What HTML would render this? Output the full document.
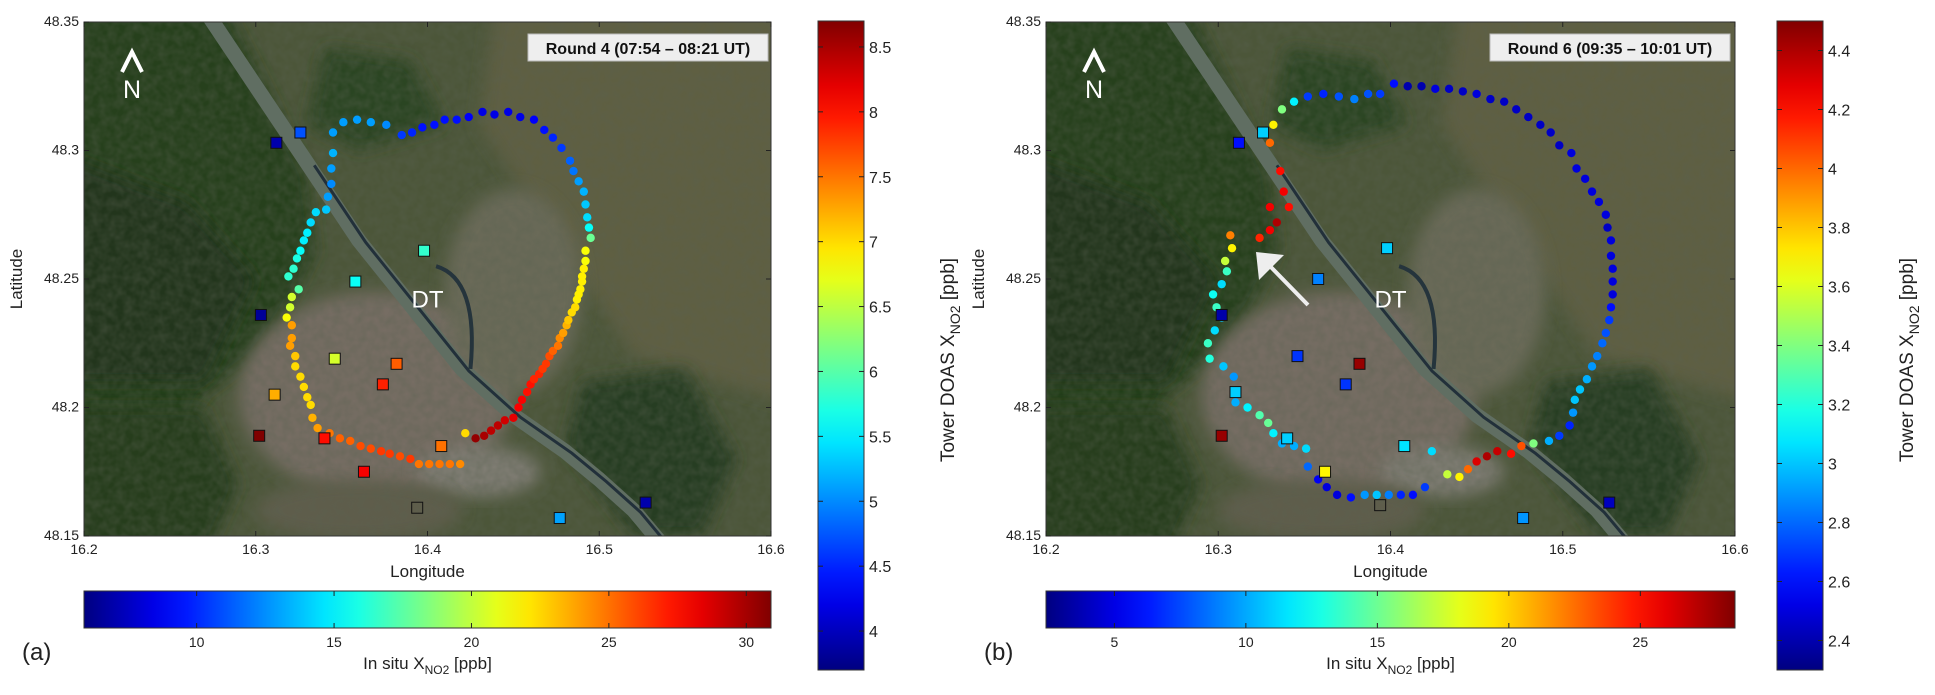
<!DOCTYPE html>
<html><head><meta charset="utf-8">
<style>
html,body{margin:0;padding:0;background:#fff;}
svg{display:block;font-family:"Liberation Sans",Arial,sans-serif;}
</style></head>
<body>
<svg id="fig" width="1935" height="695" viewBox="0 0 1935 695" xmlns="http://www.w3.org/2000/svg">
<defs>
<filter id="blur8" x="-20%" y="-20%" width="140%" height="140%"><feGaussianBlur stdDeviation="8"/></filter>
<filter id="noise" x="0" y="0" width="100%" height="100%">
<feTurbulence type="fractalNoise" baseFrequency="0.12" numOctaves="2" seed="3"/>
<feColorMatrix type="matrix" values="0 0 0 0 0.1  0 0 0 0 0.12  0 0 0 0 0.08  0 0 0 1.2 -0.3"/>
</filter>
</defs>
</svg>
<script>
// ---------- Panel (a) data: Round 4 ----------
const lonA=[16.336,16.343,16.349,16.355,16.361,16.367,16.373,16.378,16.384,16.390,16.395,16.401,16.407,16.413,16.419,
16.422,16.428,16.433,16.437,16.441,16.445,16.450,16.453,16.455,16.458,16.460,16.462,16.465,16.467,16.469,16.471,16.473,16.476,16.477,16.479,16.481,16.482,16.484,16.486,16.487,16.488,16.489,16.490,16.490,16.491,16.492,16.492,16.495,16.494,16.493,16.492,16.491,16.488,16.485,16.483,16.478,16.473,16.468,16.462,16.454,16.447,16.439,16.432,16.424,16.417,16.410,16.404,16.397,16.391,16.385,16.376,16.367,16.359,16.351,16.345,16.345,16.344,16.344,16.342,16.341,16.335,16.332,16.330,16.328,16.326,16.324,16.322,16.319,16.325,16.321,16.320,16.318,16.321,16.321,16.320,16.323,16.323,16.326,16.328,16.330,16.332,16.333];
const latA=[48.192,48.190,48.188,48.187,48.185,48.184,48.183,48.182,48.181,48.180,48.178,48.178,48.178,48.178,48.178,
48.190,48.188,48.189,48.191,48.193,48.195,48.196,48.200,48.203,48.206,48.209,48.211,48.213,48.215,48.217,48.220,48.222,48.224,48.227,48.229,48.232,48.234,48.237,48.239,48.242,48.244,48.246,48.249,48.251,48.254,48.257,48.261,48.266,48.270,48.274,48.279,48.284,48.288,48.292,48.296,48.301,48.305,48.308,48.312,48.313,48.315,48.314,48.315,48.313,48.312,48.312,48.310,48.309,48.307,48.306,48.310,48.311,48.312,48.311,48.307,48.299,48.293,48.287,48.282,48.277,48.276,48.272,48.268,48.265,48.261,48.258,48.254,48.251,48.246,48.243,48.239,48.235,48.232,48.227,48.224,48.220,48.216,48.212,48.208,48.204,48.201,48.196];
const valA=[7.3,7.5,7.6,7.6,7.7,7.7,7.8,7.8,7.7,7.8,7.5,7.5,7.5,7.5,7.4,
7.0,8.6,8.5,8.4,8.4,8.3,8.2,8.1,8.1,8.0,8.0,7.9,7.9,7.8,7.8,7.7,7.6,7.5,7.4,7.3,7.2,7.1,7.0,7.0,6.9,6.9,6.9,6.9,6.9,6.9,6.8,6.8,6.1,5.6,5.4,5.3,5.2,5.1,4.9,4.8,4.6,4.5,4.4,4.3,4.2,4.2,4.2,4.2,4.3,4.4,4.4,4.4,4.4,4.5,4.6,5.0,5.1,5.1,5.1,5.1,5.2,5.1,5.0,5.1,5.3,5.4,5.4,5.5,5.5,5.6,5.7,5.8,5.8,6.0,6.6,6.6,6.8,7.3,7.3,7.3,7.1,7.0,7.0,7.0,7.0,7.0,7.2];
const sqLonA=[16.312,16.326,16.398,16.358,16.303,16.346,16.382,16.374,16.311,16.302,16.340,16.408,16.363,16.394,16.477,16.527];
const sqLatA=[48.303,48.307,48.261,48.249,48.236,48.219,48.217,48.209,48.205,48.189,48.188,48.185,48.175,48.161,48.157,48.163];
const sqValA=[7,11,16.5,15.5,6.5,20.5,25.5,27,23.5,31,27.5,25,28,null,13,7];
// ---------- Panel (b) data: Round 6 ----------
const lonB=[16.344,16.337,16.332,16.330,16.336,16.338,16.341,16.330,16.334,16.330,16.324,16.307,16.308,16.304,16.305,16.302,16.297,16.299,16.302,16.298,16.294,16.295,16.303,16.309,16.310,16.317,16.324,16.329,16.332,16.337,16.344,16.351,16.352,16.358,16.363,16.369,16.377,16.385,16.392,16.399,16.406,16.413,16.420,16.424,16.433,16.440,16.445,16.450,16.456,16.462,16.470,16.476,16.483,16.492,16.498,16.504,16.506,16.507,16.510,16.514,16.517,16.520,16.523,16.525,16.527,16.528,16.529,16.529,16.529,16.528,16.528,16.526,16.525,16.521,16.517,16.513,16.508,16.505,16.498,16.493,16.487,16.480,16.473,16.466,16.458,16.450,16.442,16.434,16.426,16.418,16.410,16.402,16.394,16.387,16.379,16.370,16.361,16.352];
const latB=[48.319,48.316,48.310,48.303,48.292,48.284,48.278,48.278,48.272,48.269,48.266,48.267,48.262,48.257,48.253,48.248,48.244,48.239,48.235,48.230,48.225,48.219,48.216,48.212,48.202,48.200,48.197,48.194,48.190,48.186,48.185,48.184,48.177,48.172,48.169,48.166,48.165,48.166,48.166,48.166,48.166,48.166,48.169,48.183,48.174,48.173,48.176,48.179,48.181,48.183,48.182,48.185,48.186,48.187,48.189,48.193,48.198,48.203,48.207,48.211,48.216,48.220,48.225,48.229,48.234,48.239,48.244,48.249,48.254,48.259,48.265,48.270,48.275,48.280,48.284,48.289,48.293,48.299,48.302,48.307,48.310,48.313,48.316,48.319,48.320,48.322,48.323,48.324,48.324,48.325,48.325,48.326,48.322,48.322,48.320,48.321,48.322,48.321];
const valB=[3.1,3.4,3.7,4.0,4.2,4.25,4.2,4.25,4.4,4.25,4.15,3.95,3.7,3.55,3.25,3.05,3.15,3.25,3.0,3.05,3.25,3.2,3.0,2.9,2.95,3.1,3.3,3.35,3.1,2.95,2.95,3.05,2.8,2.55,2.5,2.5,2.6,2.9,3.0,2.85,2.65,2.6,2.7,3.05,3.55,3.7,4.0,4.3,4.4,4.35,4.2,4.05,3.4,2.95,2.7,2.65,2.9,3.0,3.0,2.95,2.9,2.85,2.8,2.75,2.7,2.6,2.5,2.5,2.5,2.5,2.5,2.45,2.5,2.5,2.5,2.5,2.5,2.5,2.45,2.45,2.45,2.45,2.45,2.45,2.45,2.5,2.45,2.45,2.5,2.4,2.4,2.6,2.7,2.75,2.85,2.75,2.65,2.7];
const sqLonB=[16.312,16.326,16.398,16.358,16.302,16.346,16.382,16.374,16.310,16.302,16.340,16.408,16.362,16.394,16.477,16.527];
const sqLatB=[48.303,48.307,48.262,48.250,48.236,48.220,48.217,48.209,48.206,48.189,48.188,48.185,48.175,48.162,48.157,48.163];
const sqValB=[6,11,11,9,3.5,7,28,7,11,28,11,11.5,19,null,9.5,4];
// ---------- ticks ----------
const lonTicks=[16.2,16.3,16.4,16.5,16.6];
const latTicks=[48.15,48.2,48.25,48.3,48.35];
const latTickLabels=["48.15","48.2","48.25","48.3","48.35"];
const cbTicksA=[4,4.5,5,5.5,6,6.5,7,7.5,8,8.5];
const cbTicksB=[2.4,2.6,2.8,3,3.2,3.4,3.6,3.8,4,4.2,4.4];
const hcTicksA=[10,15,20,25,30];
const hcTicksB=[5,10,15,20,25];
const cbRangeA=[3.7,8.7], cbRangeB=[2.3,4.5];
const hcRangeA=[5.9,30.9], hcRangeB=[2.4,28.6];

const NS="http://www.w3.org/2000/svg";
const svg=document.getElementById('fig');
function mk(tag,attrs,parent){const e=document.createElementNS(NS,tag);for(const k in attrs)e.setAttribute(k,attrs[k]);(parent||svg).appendChild(e);return e;}
function jet(t){t=Math.max(0,Math.min(1,t));const c=x=>Math.round(255*Math.max(0,Math.min(1,1.5-Math.abs(4*t-x))));return `rgb(${c(3)},${c(2)},${c(1)})`;}

function panel(cfg){
  const X0=cfg.x0,Y0=22,W=cfg.w,H=514;
  const px=lon=>X0+(lon-16.2)/0.4*W;
  const py=lat=>Y0+(48.35-lat)/0.2*H;
  const g=mk('g',{});
  
  
  const clipId='clip'+cfg.name;
  const cp=mk('clipPath',{id:clipId},g);mk('rect',{x:X0,y:Y0,width:W,height:H},cp);
  const map=mk('g',{'clip-path':`url(#${clipId})`},g);
  
  
  mk('rect',{x:X0,y:Y0,width:W,height:H,fill:'#4c5639'},map);
  const poly=(pts,fill)=>mk('polygon',{points:pts.map(p=>px(p[0])+','+py(p[1])).join(' '),fill:fill,filter:'url(#blur8)'},map);
  // fields east
  poly([[16.44,48.36],[16.62,48.36],[16.62,48.2],[16.52,48.22],[16.47,48.27],[16.43,48.31]],'#5e5e42');
  // forest west
  poly([[16.18,48.36],[16.28,48.36],[16.31,48.32],[16.33,48.29],[16.335,48.26],[16.32,48.24],[16.30,48.22],[16.27,48.205],[16.25,48.18],[16.25,48.14],[16.18,48.14]],'#28401f');
  poly([[16.18,48.30],[16.26,48.28],[16.30,48.25],[16.27,48.21],[16.18,48.21]],'#20361b');
  // Bisamberg
  poly([[16.34,48.34],[16.39,48.335],[16.41,48.31],[16.36,48.30],[16.33,48.31]],'#2c4524');
  // city
  mk('ellipse',{cx:px(16.37),cy:py(48.205),rx:W*0.2,ry:H*0.2,fill:'#766d63',filter:'url(#blur8)'},map);
  mk('ellipse',{cx:px(16.45),cy:py(48.245),rx:W*0.1,ry:H*0.2,fill:'#6b6b58',filter:'url(#blur8)'},map);
  mk('ellipse',{cx:px(16.43),cy:py(48.175),rx:W*0.09,ry:H*0.05,fill:'#7e7c72',filter:'url(#blur8)'},map);
  mk('ellipse',{cx:px(16.36),cy:py(48.16),rx:W*0.15,ry:H*0.06,fill:'#5f5d4b',filter:'url(#blur8)'},map);
  // Lobau forest SE
  poly([[16.49,48.21],[16.55,48.215],[16.58,48.18],[16.56,48.15],[16.52,48.15],[16.48,48.185]],'#283e22');
  poly([[16.18,48.20],[16.27,48.2],[16.29,48.17],[16.27,48.14],[16.18,48.14]],'#263d1f');
  // texture
  mk('rect',{x:X0,y:Y0,width:W,height:H,filter:'url(#noise)',opacity:0.5},map);
  // Danube
  const river=[[16.27,48.355],[16.30,48.325],[16.33,48.295],[16.36,48.265],[16.39,48.24],[16.42,48.215],[16.45,48.197],[16.48,48.183],[16.50,48.172],[16.52,48.16],[16.535,48.148]];
  const rp=river.map(p=>px(p[0])+','+py(p[1])).join(' ');
  const rv=mk('polyline',{points:rp,fill:'none',stroke:'#606e62','stroke-width':15,'stroke-linejoin':'round'},map);
  
  
  const canal=river.slice(2).map(p=>(px(p[0])+7)+','+(py(p[1])+2)).join(' ');
  mk('polyline',{points:canal,fill:'none',stroke:'#22303a','stroke-width':3},map);
  mk('path',{d:`M${px(16.405)} ${py(48.255)} Q${px(16.43)} ${py(48.25)} ${px(16.425)} ${py(48.215)}`,fill:'none',stroke:'#25343c','stroke-width':4},map);

  // north arrow
  const na=mk('g',{},map);
  
  
  mk('polyline',{points:`${X0+38},${Y0+50} ${X0+48},${Y0+30} ${X0+58},${Y0+50}`,fill:'none',stroke:'#fff','stroke-width':4},na);
  const nt=mk('text',{x:X0+48,y:Y0+76,'text-anchor':'middle','font-size':25,fill:'#fff'},na);nt.textContent='N';
  const dt=mk('text',{x:px(16.4),y:py(48.24)+3,'text-anchor':'middle','font-size':24,fill:'#fff'},map);
  dt.textContent='DT';
  
  
  if(cfg.arrow){
    const ar=mk('g',{},map);
    
    
    mk('line',{x1:X0+262,y1:Y0+283,x2:X0+218,y2:Y0+238,stroke:'#eee','stroke-width':4},ar);
    mk('polygon',{points:`${X0+210},${Y0+230} ${X0+238},${Y0+233} ${X0+213},${Y0+258}`,fill:'#eee'},ar);
  }

  for(let i=0;i<cfg.lon.length;i++){
    const c=mk('circle',{cx:px(cfg.lon[i]),cy:py(cfg.lat[i]),r:4.2,fill:jet((cfg.val[i]-cfg.cb[0])/(cfg.cb[1]-cfg.cb[0]))},map);
    
    
  }
  for(let i=0;i<cfg.sqLon.length;i++){
    const v=cfg.sqVal[i];
    const s=mk('rect',{x:px(cfg.sqLon[i])-5.5,y:py(cfg.sqLat[i])-5.5,width:11,height:11,fill:v==null?'none':jet((v-cfg.hc[0])/(cfg.hc[1]-cfg.hc[0])),stroke:'#111','stroke-width':1},map);
    
    
  }
  const tb=mk('g',{},g);
  
  
  mk('rect',{x:X0+444,y:Y0+12,width:240,height:27,fill:'#eeeeee',stroke:'#bbb'},tb);
  const tt=mk('text',{x:X0+564,y:Y0+32,'text-anchor':'middle','font-size':16,'font-weight':'bold',fill:'#111'},tb);
  tt.textContent=cfg.title;
  mk('rect',{x:X0,y:Y0,width:W,height:H,fill:'none',stroke:'#333','stroke-width':1},g);
  lonTicks.forEach(t=>{
    mk('line',{x1:px(t),y1:Y0+H,x2:px(t),y2:Y0+H-5,stroke:'#222'},g);
    mk('line',{x1:px(t),y1:Y0,x2:px(t),y2:Y0+5,stroke:'#222'},g);
    const l=mk('text',{x:px(t),y:Y0+H+18,'text-anchor':'middle','font-size':14,fill:'#222'},g);l.textContent=t.toFixed(1);
    
    
  });
  latTicks.forEach((t,i)=>{
    mk('line',{x1:X0,y1:py(t),x2:X0+5,y2:py(t),stroke:'#222'},g);
    mk('line',{x1:X0+W,y1:py(t),x2:X0+W-5,y2:py(t),stroke:'#222'},g);
    const l=mk('text',{x:X0-5,y:py(t)+4,'text-anchor':'end','font-size':14,fill:'#222'},g);l.textContent=latTickLabels[i];
    
    
  });
  const xl=mk('text',{x:X0+W/2,y:Y0+H+41,'text-anchor':'middle','font-size':17,fill:'#222'},g);xl.textContent='Longitude';
  
  
  const yl=mk('text',{x:0,y:0,transform:`translate(${X0-62},${Y0+H/2}) rotate(-90)`,'text-anchor':'middle','font-size':17,fill:'#222'},g);yl.textContent='Latitude';
  
  

  const hg=mk('linearGradient',{id:'hg'+cfg.name,x1:0,y1:0,x2:1,y2:0},g);
  for(let k=0;k<=20;k++)mk('stop',{offset:k/20,'stop-color':jet(k/20)},hg);
  const hb=mk('rect',{x:X0,y:591,width:W,height:37,fill:`url(#hg${cfg.name})`,stroke:'#333'},g);
  
  
  const hx=v=>X0+(v-cfg.hc[0])/(cfg.hc[1]-cfg.hc[0])*W;
  cfg.hcTicks.forEach(t=>{
    mk('line',{x1:hx(t),y1:591,x2:hx(t),y2:596,stroke:'#222'},g);
    mk('line',{x1:hx(t),y1:628,x2:hx(t),y2:623,stroke:'#222'},g);
    const l=mk('text',{x:hx(t),y:647,'text-anchor':'middle','font-size':14,fill:'#222'},g);l.textContent=t;
    
    
  });
  const il=mk('text',{x:X0+W/2,y:669,'text-anchor':'middle','font-size':17,fill:'#222'},g);
  il.innerHTML='In situ X<tspan font-size="12" dy="5">NO2</tspan><tspan dy="-5"> [ppb]</tspan>';
  
  
  const pl=mk('text',{x:cfg.labX,y:660,'font-size':24,fill:'#222'},g);pl.textContent=cfg.lab;
  
  

  const CX=cfg.cbx,CY=21,CW=46,CH=649;
  const vg=mk('linearGradient',{id:'vg'+cfg.name,x1:0,y1:1,x2:0,y2:0},g);
  for(let k=0;k<=20;k++)mk('stop',{offset:k/20,'stop-color':jet(k/20)},vg);
  const vb=mk('rect',{x:CX,y:CY,width:CW,height:CH,fill:`url(#vg${cfg.name})`,stroke:'#333'},g);
  
  
  const cy=v=>CY+CH-(v-cfg.cb[0])/(cfg.cb[1]-cfg.cb[0])*CH;
  cfg.cbTicks.forEach(t=>{
    mk('line',{x1:CX,y1:cy(t),x2:CX+5,y2:cy(t),stroke:'#222'},g);
    mk('line',{x1:CX+CW,y1:cy(t),x2:CX+CW-5,y2:cy(t),stroke:'#222'},g);
    const l=mk('text',{x:CX+CW+5,y:cy(t)+6,'font-size':16,fill:'#222'},g);l.textContent=t;
    
    
  });
  const vl=mk('text',{x:0,y:0,transform:`translate(${CX+CW+90},${360}) rotate(-90)`,'text-anchor':'middle','font-size':19,fill:'#222'},g);
  vl.innerHTML='Tower DOAS X<tspan font-size="14" dy="6">NO2</tspan><tspan dy="-6"> [ppb]</tspan>';
  
  
}
panel({name:'a',x0:84,w:687,lon:lonA,lat:latA,val:valA,sqLon:sqLonA,sqLat:sqLatA,sqVal:sqValA,cb:cbRangeA,hc:hcRangeA,cbTicks:cbTicksA,hcTicks:hcTicksA,title:'Round 4 (07:54 – 08:21 UT)',lab:'(a)',labX:22,cbx:818,arrow:false});
panel({name:'b',x0:1046,w:689,lon:lonB,lat:latB,val:valB,sqLon:sqLonB,sqLat:sqLatB,sqVal:sqValB,cb:cbRangeB,hc:hcRangeB,cbTicks:cbTicksB,hcTicks:hcTicksB,title:'Round 6 (09:35 – 10:01 UT)',lab:'(b)',labX:984,cbx:1777,arrow:true});
</script>
</body></html>
